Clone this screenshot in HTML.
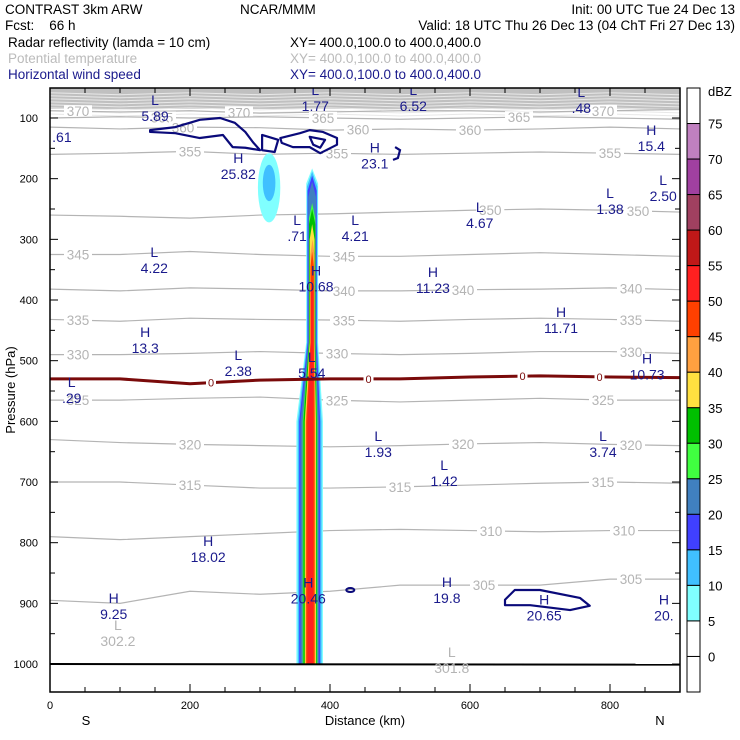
<!DOCTYPE html>
<html><head><meta charset="utf-8"><style>
body{margin:0;background:#fff}
svg{display:block;font-family:"Liberation Sans",sans-serif}
</style></head><body>
<svg id="chart" width="740" height="740" viewBox="0 0 740 740">
<g font-size="13.5">
<text x="5" y="14">CONTRAST  3km ARW</text>
<text x="240" y="14">NCAR/MMM</text>
<text x="735" y="14" text-anchor="end">Init: 00 UTC Tue 24 Dec 13</text>
<text x="5" y="30" xml:space="preserve">Fcst:    66 h</text>
<text x="735" y="30" text-anchor="end">Valid: 18 UTC Thu 26 Dec 13 (04 ChT Fri 27 Dec 13)</text>
<text x="8" y="47">Radar reflectivity (lamda = 10 cm)</text>
<text x="290" y="47">XY= 400.0,100.0 to 400.0,400.0</text>
<text x="8" y="63" fill="#bbb">Potential temperature</text>
<text x="290" y="63" fill="#bbb">XY= 400.0,100.0 to 400.0,400.0</text>
<text x="8" y="79" fill="#1a1a8c">Horizontal wind speed</text>
<text x="290" y="79" fill="#1a1a8c">XY= 400.0,100.0 to 400.0,400.0</text>
</g>
<defs><clipPath id="pc"><rect x="50" y="88" width="630" height="604"/></clipPath></defs>
<g id="plot" clip-path="url(#pc)"></g>
<g id="axes"></g>
<g id="cbar"></g>
</svg>
<script>
const NS="http://www.w3.org/2000/svg";
// ---- data ----
const xTicks=[0,200,400,600,800];
const yTicks=[100,200,300,400,500,600,700,800,900,1000];
const knotsKm=[0,100,200,300,400,500,600,700,800,900];
const thetaLevels=[370,365,360,355,350,345,340,335,330,325,320,315,310,305];
const thetaP=[
[88,90,88,92,90,88,88,90,88,86],
[100,98,100,98,100,102,100,98,100,102],
[115,118,115,116,120,118,120,118,115,118],
[160,158,155,160,158,160,158,156,158,160],
[260,262,265,260,258,255,252,250,252,255],
[325,325,320,325,328,328,325,322,325,328],
[382,385,380,382,385,385,383,382,380,383],
[432,435,430,432,433,435,432,430,432,435],
[490,490,488,485,488,490,488,485,485,488],
[565,565,562,560,565,568,565,562,565,565],
[630,635,638,640,642,640,637,635,638,640],
[700,700,705,710,710,708,705,702,700,702],
[790,795,790,785,780,778,780,782,780,780],
[895,900,880,885,880,870,870,870,860,860]];
const thetaLabelKm=[[40,270,790],[160,390,670],[190,440,600],[200,410,800],[629,840],[40,420],[420,590,830],[40,420,830],[40,410,830],[40,410,790],[200,590,830],[200,500,790],[630,820],[620,830]];
const freezeP=[530,530,538,532,530,530,527,525,527,528];
const freezeLabelKm=[230,455,675,785];
const dbzLevels=[5,10,15,20,25,30,35,40,45,50];
const colLowL=[352,354,356,358,361,362,364,365,366,368];
const colLowR=[390,388,386,384,382,381,380,379,378,376];
const colUpL=[366,367,368,369,370,370,371,372,372,373];
const colUpR=[383,382,381,380,379,379,378,378,377,376];
const colTop=[183,188,195,205,240,250,275,300,320,360];
const cbLabels=[75,70,65,60,55,50,45,40,35,30,25,20,15,10,5,0];
const cbColors=["#fff","#c080c0","#a040a0","#a04060","#c01818","#ff2020","#ff4000","#ffa040","#ffe040","#00c000","#40ff40","#4080c0","#4040ff","#40c0ff","#80ffff","#fff","#fff"];
const extKm=["H","L","H","L","H"];
const extType=["L","L","L","L","","H","H","H","L","L","L","L","L","L","H","H","H","H","L","L","H","L","L","L","L","H","H","H","H","H","H"];
const extVal=["5.89","1.77","6.52",".48",".61","25.82","23.1","15.4","2.50","1.38","4.67","4.21",".71","4.22","10.68","11.23","11.71","13.3","2.38","5.54","10.73",".29","1.93","3.74","1.42","18.02","9.25","20.46","19.8","20.65","20."];
const extXkm=[150,379,519,759,17,269,464,859,876,800,614,436,353,149,380,547,730,136,269,374,853,31,469,790,563,226,91,369,567,706,877];
const extP=[70,54,54,57,131,166,149,120,202,224,247,268,268,321,351,354,420,453,491,494,496,535,624,624,672,797,891,866,865,894,894];
const grayExtVal=["302.2","301.8"],grayExtKm=[97,574],grayExtP=[936,980];
const windA=[[143,120],[179,115],[214,103],[243,100],[264,108],[279,123],[290,140],[300,153],[279,149],[261,148],[247,128],[214,133],[179,125],[143,123]];
const windD=[[303,128],[326,136],[321,156],[303,153]];
const windB=[[329,133],[357,125],[371,120],[390,123],[410,133],[410,144],[386,158],[371,148],[347,148],[331,141]];
const windBi=[[371,131],[393,136],[386,149],[376,144]];
const windC=[[493,148],[500,153],[497,166],[490,169]];
const windE=[[650,894],[664,878],[700,878],[757,891],[771,904],[743,911],[686,903],[650,903]];
// ---- scales ----
const X=km=>50+0.7*km, Y=p=>118+(p-100)*0.6067;
function mk(t,a,par){const e=document.createElementNS(NS,t);for(const k in a)e.setAttribute(k,a[k]);par.appendChild(e);return e;}
const plot=document.getElementById('plot'),axes=document.getElementById('axes'),cb=document.getElementById('cbar');
// top gray band
let band=mk('rect',{x:50,y:88,width:630,height:Y(85)-88,fill:'#c0c0c0'},plot);


for(let p=60;p<=95;p+=5){let l=mk('polyline',{points:knotsKm.map((k,i)=>X(k)+','+(Y(p)+(i%2?1:-1))).join(' '),fill:'none',stroke:'#e8e8e8','stroke-width':1},plot);

}
// theta contours
thetaLevels.forEach((lv,i)=>{
 const pl=mk('polyline',{points:knotsKm.map((k,j)=>X(k)+','+Y(thetaP[i][j])).join(' '),fill:'none',stroke:'#b4b4b4','stroke-width':1.2},plot);
 
 
 thetaLabelKm[i].forEach(km=>{
  const j=Math.min(8,Math.floor(km/100)),f=(km-knotsKm[j])/100,p=thetaP[i][j]*(1-f)+thetaP[i][j+1]*f;
  mk('rect',{x:X(km)-14,y:Y(p)-6,width:28,height:12,fill:'#fff'},plot);
  const t=mk('text',{x:X(km),y:Y(p)+5,'text-anchor':'middle','font-size':13.5,fill:'#b4b4b4'},plot);t.textContent=lv;
  
  
 });
});
// reflectivity blob
let b1=mk('ellipse',{cx:X(313),cy:Y(215),rx:16*0.7,ry:57*0.6067,fill:'#80ffff'},plot);


let b2=mk('ellipse',{cx:X(313),cy:Y(207),rx:9*0.7,ry:30*0.6067,fill:'#40c0ff'},plot);


// column
dbzLevels.forEach((lv,i)=>{
 const pts=[[colLowL[i],1000],[colLowL[i],600],[colUpL[i],470],[colUpL[i],colTop[i]+25],[(colUpL[i]+colUpR[i])/2,colTop[i]],[colUpR[i],colTop[i]+25],[colUpR[i],470],[colLowR[i],600],[colLowR[i],1000]];
 const pg=mk('polygon',{points:pts.map(q=>X(q[0])+','+Y(q[1])).join(' '),fill:cbColors[15-i-1]},plot);
 
 
});
// freezing line
const fz=mk('polyline',{points:knotsKm.map((k,j)=>X(k)+','+Y(freezeP[j])).join(' '),fill:'none',stroke:'#7a0a0a','stroke-width':3},plot);


freezeLabelKm.forEach(km=>{const j=Math.floor(km/100),f=(km-knotsKm[j])/100,p=freezeP[j]*(1-f)+freezeP[j+1]*f;
 mk('rect',{x:X(km)-5,y:Y(p)-6,width:10,height:12,fill:'#fff'},plot);
 const t=mk('text',{x:X(km),y:Y(p)+4,'text-anchor':'middle','font-size':11,fill:'#7a0a0a'},plot);t.textContent='0';
 
 });
// ground
const gr=mk('line',{x1:50,x2:680,y1:Y(1000),y2:Y(1001),stroke:'#000','stroke-width':2},plot);


// wind contours
[windA,windD,windB,windBi,windE].forEach(c=>{const pg=mk('polygon',{points:c.map(q=>X(q[0])+','+Y(q[1])).join(' '),fill:'none',stroke:'#0a0a7a','stroke-width':2.2,'stroke-linejoin':'round'},plot);
 
 });
const wc=mk('polyline',{points:windC.map(q=>X(q[0])+','+Y(q[1])).join(' '),fill:'none',stroke:'#0a0a7a','stroke-width':2.2},plot);


const we=mk('ellipse',{cx:X(429),cy:Y(878),rx:4,ry:2,fill:'none',stroke:'#0a0a7a','stroke-width':2},plot);


// extrema labels
extVal.forEach((v,i)=>{
 if(extType[i]){const t=mk('text',{x:X(extXkm[i]),y:Y(extP[i])+5,'text-anchor':'middle','font-size':14,fill:'#1a1a8c'},plot);t.textContent=extType[i];
 
 }
 const n=mk('text',{x:X(extXkm[i]),y:Y(extP[i])+(extType[i]?21:5),'text-anchor':'middle','font-size':14,fill:'#1a1a8c'},plot);n.textContent=v;
 
 
});
grayExtVal.forEach((v,i)=>{
 const t=mk('text',{x:X(grayExtKm[i]),y:Y(grayExtP[i])+5,'text-anchor':'middle','font-size':14,fill:'#b4b4b4'},plot);t.textContent='L';
 
 
 const n=mk('text',{x:X(grayExtKm[i]),y:Y(grayExtP[i])+21,'text-anchor':'middle','font-size':14,fill:'#b4b4b4'},plot);n.textContent=v;
 
 
});
// axes frame
const fr=mk('rect',{x:50,y:88,width:630,height:604,fill:'none',stroke:'#000','stroke-width':1.5},axes);


for(let k=0;k<=900;k+=50){const L=k%200==0?8:5;mk('line',{x1:X(k),x2:X(k),y1:692,y2:692-L,stroke:'#000'},axes);mk('line',{x1:X(k),x2:X(k),y1:88,y2:88+L,stroke:'#000'},axes);}
for(let p=100;p<=1000;p+=50){const L=p%100==0?8:5;mk('line',{x1:50,x2:50+L,y1:Y(p),y2:Y(p),stroke:'#000'},axes);mk('line',{x1:680,x2:680-L,y1:Y(p),y2:Y(p),stroke:'#000'},axes);}
xTicks.forEach(k=>{const t=mk('text',{x:X(k),y:709,'text-anchor':'middle','font-size':11},axes);t.textContent=k;
 
 });
yTicks.forEach(p=>{const t=mk('text',{x:38,y:Y(p)+4,'text-anchor':'end','font-size':11},axes);t.textContent=p;
 
 });
const xt=mk('text',{x:365,y:725,'text-anchor':'middle','font-size':13},axes);xt.textContent='Distance (km)';


const ts=mk('text',{x:86,y:725,'text-anchor':'middle','font-size':13},axes);ts.textContent='S';


const tn=mk('text',{x:660,y:725,'text-anchor':'middle','font-size':13},axes);tn.textContent='N';


const yt=mk('text',{x:0,y:0,'text-anchor':'middle','font-size':13,transform:'translate(15,390) rotate(-90)'},axes);yt.textContent='Pressure (hPa)';


// colorbar
const bh=604/17;
cbColors.forEach((c,i)=>{const r=mk('rect',{x:687,y:88+i*bh,width:13,height:bh,fill:c,stroke:'#000','stroke-width':1},cb);
 
 });
cbLabels.forEach((v,i)=>{const t=mk('text',{x:708,y:88+(i+1)*bh+5,'font-size':13},cb);t.textContent=v;
 
 });
const du=mk('text',{x:708,y:96,'font-size':13},cb);du.textContent='dBZ';


</script>
</body></html>
